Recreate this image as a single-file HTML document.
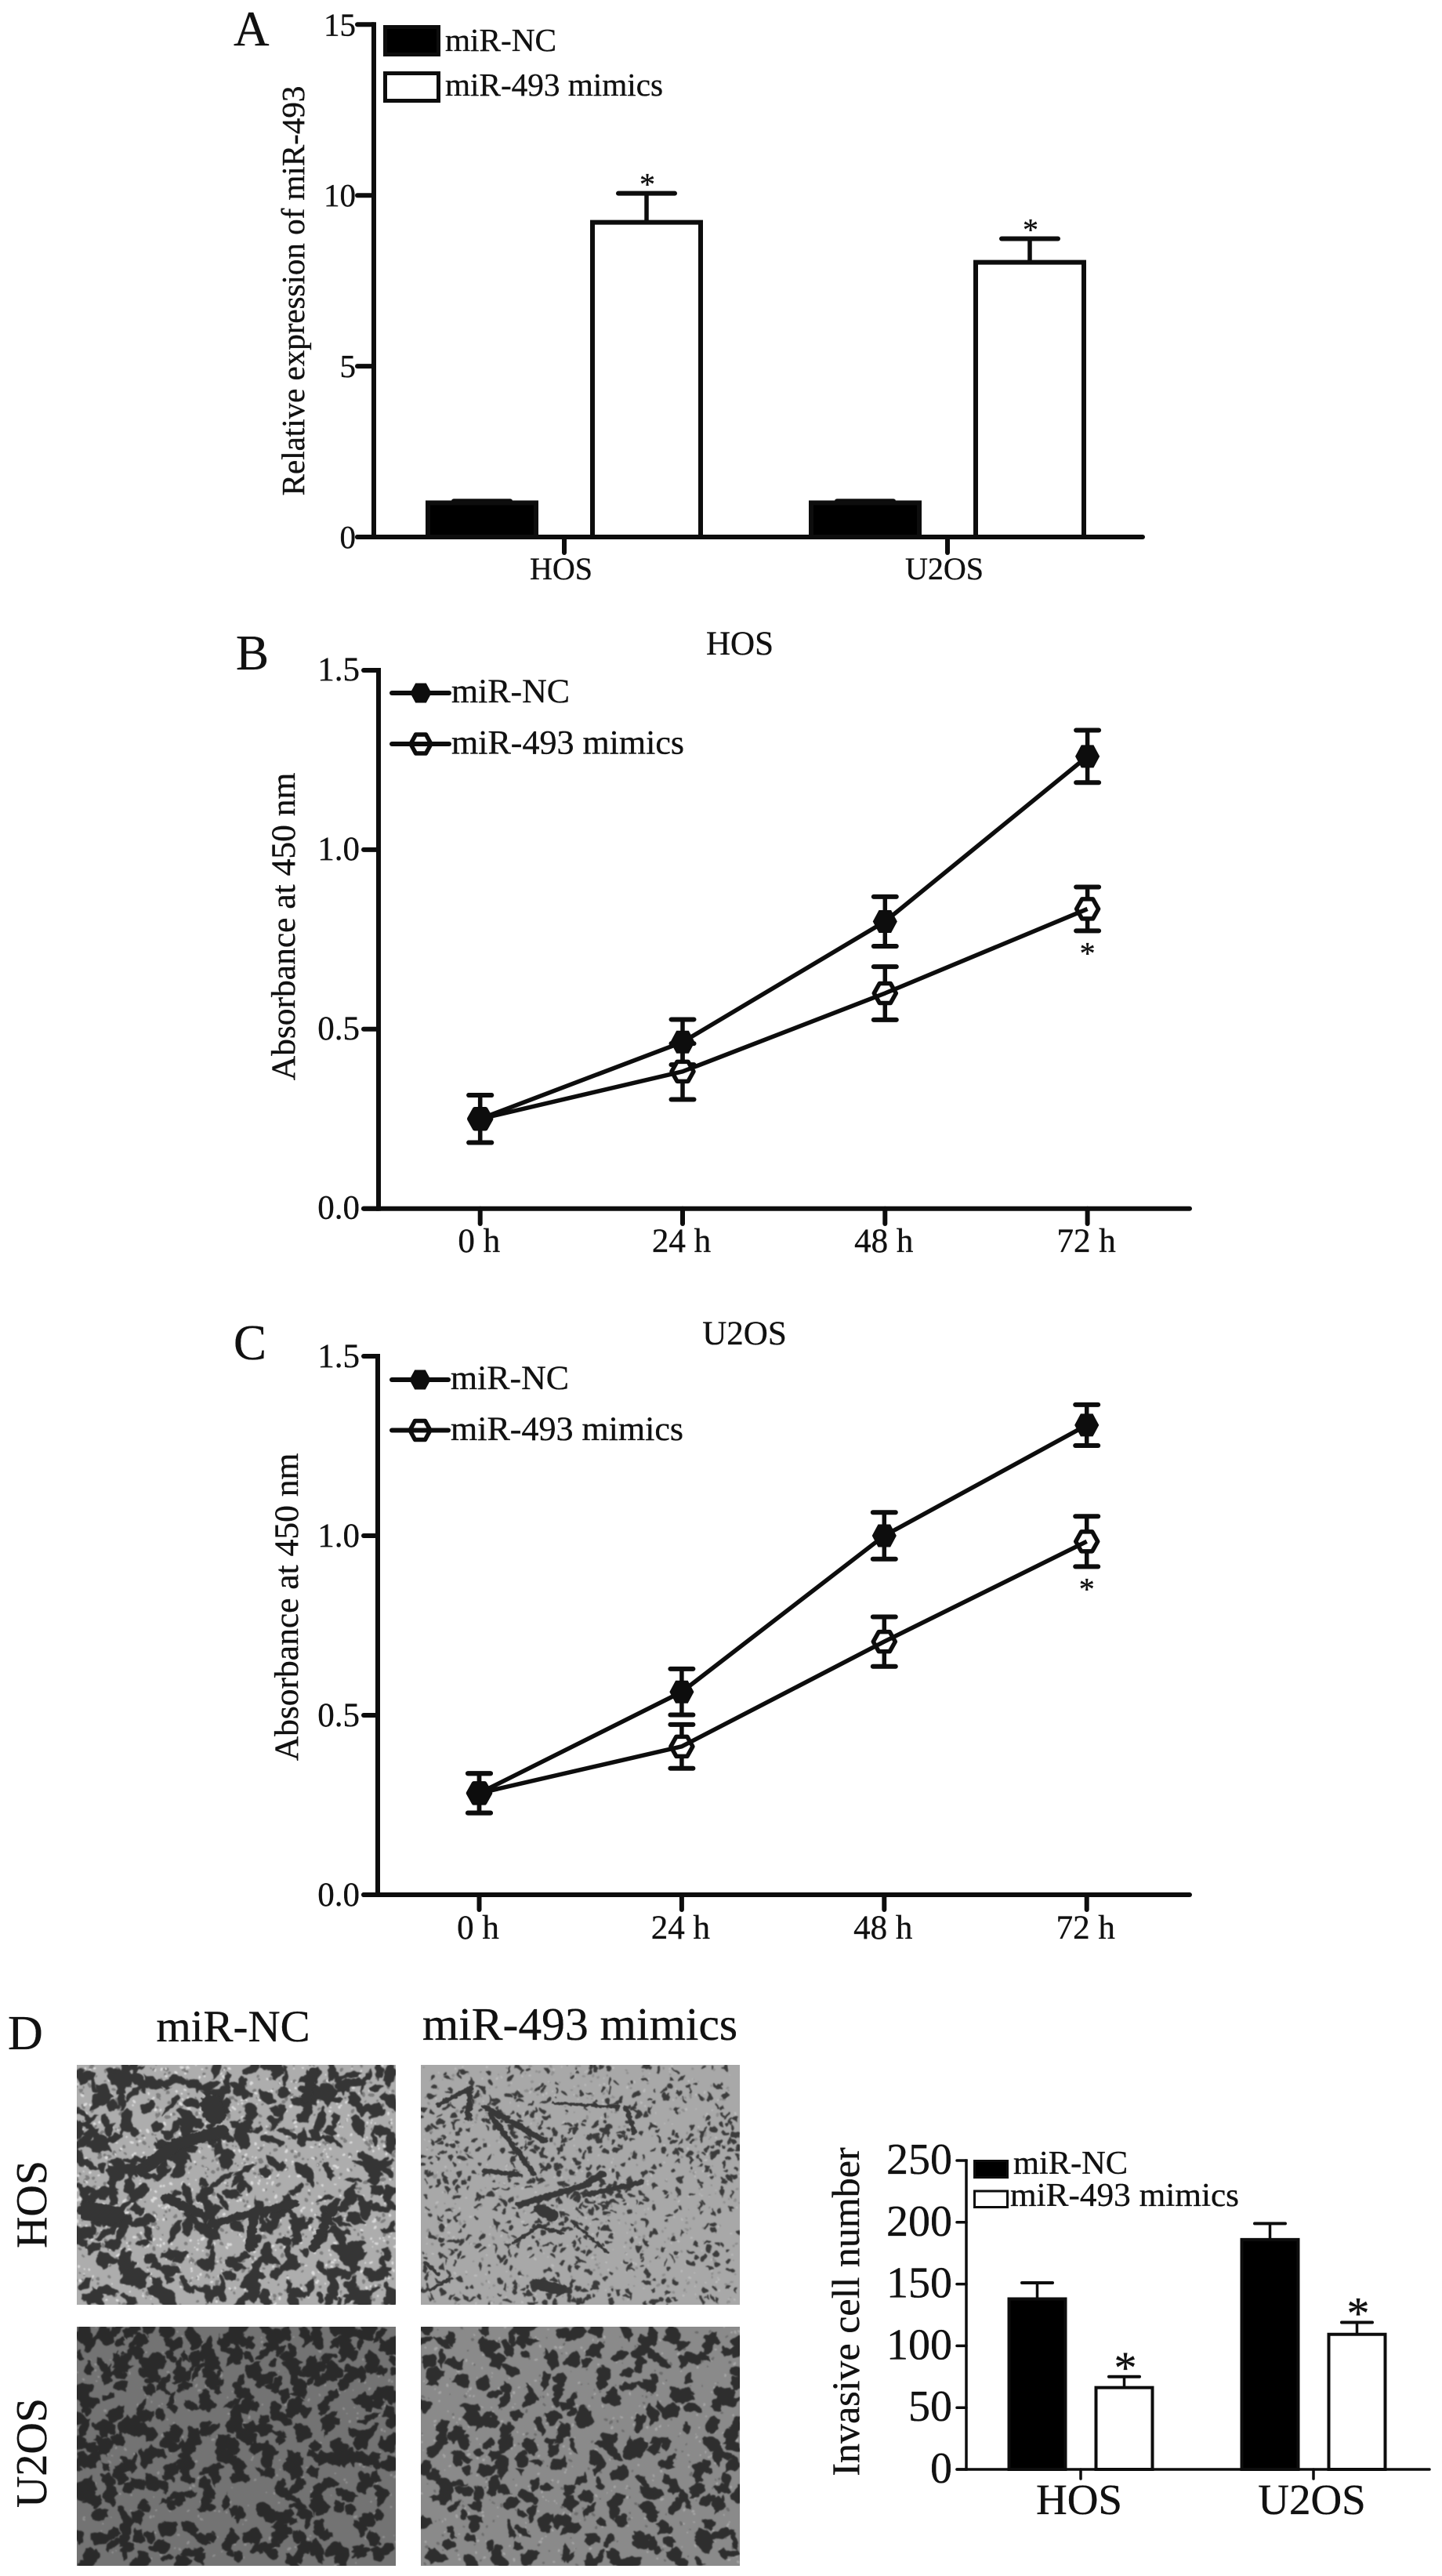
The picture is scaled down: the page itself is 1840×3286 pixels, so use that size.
<!DOCTYPE html>
<html lang="en">
<head>
<meta charset="utf-8">
<title>miR-493 figure</title>
<style>
html,body{margin:0;padding:0;background:#fff}
svg{display:block}
text{font-family:"Liberation Serif",serif;fill:#111;stroke:#111;stroke-width:.35}
</style>
</head>
<body>
<svg id="fig" xmlns="http://www.w3.org/2000/svg" width="1840" height="3286" viewBox="0 0 1840 3286">
<defs>
<filter id="rough" x="-3%" y="-3%" width="106%" height="106%"><feTurbulence type="fractalNoise" baseFrequency="0.1" numOctaves="2" seed="5" result="t"/><feDisplacementMap in="SourceGraphic" in2="t" scale="10" xChannelSelector="R" yChannelSelector="G"/><feGaussianBlur stdDeviation="0.9"/></filter>
<filter id="soft" x="-3%" y="-3%" width="106%" height="106%"><feGaussianBlur stdDeviation="0.7"/></filter>
<clipPath id="c1"><rect x="98" y="2634" width="407" height="306"/></clipPath>
<clipPath id="c2"><rect x="537" y="2634" width="407" height="306"/></clipPath>
<clipPath id="c3"><rect x="98" y="2968" width="407" height="305"/></clipPath>
<clipPath id="c4"><rect x="537" y="2968" width="407" height="305"/></clipPath>
</defs>
<rect width="1840" height="3286" fill="#fff"/>

<g id="m1" clip-path="url(#c1)">
<rect x="98" y="2634" width="407" height="306" fill="#adadad"/>
<g id="m1s"></g>
<g transform="translate(0 2540) scale(.625 .4758)" filter="url(#rough)" fill="none" stroke="#353535" stroke-linecap="round" stroke-linejoin="round">
<path d="M290 480L360 410L450 375" stroke-width="30"/><path d="M340 555L405 595" stroke-width="24"/><path d="M430 625L500 600L600 570" stroke-width="20"/>
<path d="M520 590L510 690" stroke-width="20"/><path d="M680 580L640 690" stroke-width="20"/><path d="M640 215L625 290" stroke-width="18"/>
<path d="M430 300L440 335" stroke-width="44"/><path d="M180 590L230 600" stroke-width="50"/>
</g>
</g>

<g id="m2" clip-path="url(#c2)">
<rect x="537" y="2634" width="407" height="306" fill="#a8a8a8"/>
<g id="m2s"></g>
<g transform="translate(0 2540) scale(.625 .4758)" filter="url(#rough)" fill="none" stroke="#383838" stroke-linecap="round" stroke-linejoin="round">
<path d="M895 305L960 260L955 340" stroke-width="12"/><path d="M990 310L1110 400" stroke-width="15"/><path d="M1000 330L1090 490" stroke-width="12"/><path d="M1130 300L1260 310" stroke-width="8"/><path d="M1278 310L1295 380" stroke-width="10"/>
<path d="M1060 572L1190 522L1230 490" stroke-width="16"/><path d="M1200 545L1310 512" stroke-width="13"/><path d="M990 482L1060 492" stroke-width="13"/><path d="M1050 675L1100 630L1150 650" stroke-width="9"/><path d="M1170 620L1240 700" stroke-width="7"/><path d="M880 800L920 770" stroke-width="8"/><path d="M870 730L895 760" stroke-width="8"/>
<path d="M1105 585L1125 600" stroke-width="30"/><path d="M1100 785L1140 800" stroke-width="30"/>
</g>
</g>

<g id="m3" clip-path="url(#c3)">
<rect x="98" y="2968" width="407" height="305" fill="#737373"/>
<g id="m3s"></g>
</g>

<g id="m4" clip-path="url(#c4)">
<rect x="537" y="2968" width="407" height="305" fill="#8a8a8a"/>
<g id="m4s"></g>
</g>

<text x="298" y="58" font-size="63">A</text>
<text x="301" y="854" font-size="63">B</text>
<text x="298" y="1734" font-size="63">C</text>
<text x="10" y="2614" font-size="62">D</text>
<text x="297.5" y="2604" font-size="57" text-anchor="middle">miR-NC</text>
<text x="740" y="2602" font-size="59.6" text-anchor="middle">miR-493 mimics</text>
<text transform="translate(59 2812) rotate(-90)" font-size="56" text-anchor="middle">HOS</text>
<text transform="translate(59 3129) rotate(-90)" font-size="56" text-anchor="middle">U2OS</text>
<g id="chartA"></g>
<g id="chartB"></g>
<g id="chartC"></g>
<g id="chartD"></g>
</svg>
<script>
const barCategories = ['HOS', 'U2OS'];

const aTickValues = [0, 5, 10, 15];
const aTickLabels = ['0', '5', '10', '15'];
const aNC = [1.0, 1.0];
const aNCErr = [0.05, 0.05];
const aMimics = [9.21, 8.04];
const aMimicsErr = [0.85, 0.69];

const lineCategories = ['0 h', '24 h', '48 h', '72 h'];
const lineTickValues = [0, 0.5, 1.0, 1.5];
const lineTickLabels = ['0.0', '0.5', '1.0', '1.5'];

const bNC = [0.25, 0.464, 0.80, 1.26];
const bNCErr = [0.066, 0.063, 0.069, 0.073];
const bMimics = [0.25, 0.382, 0.60, 0.835];
const bMimicsErr = [0.066, 0.078, 0.074, 0.061];

const cNC = [0.283, 0.565, 1.0, 1.308];
const cNCErr = [0.055, 0.064, 0.065, 0.057];
const cMimics = [0.283, 0.413, 0.705, 0.984];
const cMimicsErr = [0.055, 0.061, 0.069, 0.07];

const dTickValues = [0, 50, 100, 150, 200, 250];
const dTickLabels = ['0', '50', '100', '150', '200', '250'];
const dNC = [138, 186];
const dNCErr = [13, 13];
const dMimics = [66.2, 109.3];
const dMimicsErr = [8.8, 9.7];

const NS = 'http://www.w3.org/2000/svg';
function mk(parent, tag, attrs, txt) {
  const el = document.createElementNS(NS, tag);
  for (const k in attrs) el.setAttribute(k, attrs[k]);
  if (txt !== undefined) el.textContent = txt;
  parent.appendChild(el);
  return el;
}
function seg(parent, x1, y1, x2, y2, w, name, cap) {
  const el = mk(parent, 'line', {x1, y1, x2, y2, stroke: '#0d0d0d', 'stroke-width': w, 'stroke-linecap': cap || 'butt'});
  
  
  return el;
}
function hexPoints(cx, cy, rx, ry) {
  return [[cx - rx, cy], [cx - rx / 2, cy - ry], [cx + rx / 2, cy - ry], [cx + rx, cy], [cx + rx / 2, cy + ry], [cx - rx / 2, cy + ry]]
    .map(p => p.join(',')).join(' ');
}
function yAxis(g, o, tickValues, tickLabels) {
  seg(g, o.ax, o.y(tickValues[tickValues.length - 1]) - o.sw / 2, o.ax, o.y(0) + o.sw / 2, o.sw, 'y-axis-line');
  tickValues.forEach((v, i) => {
    seg(g, o.tickL, o.y(v), o.ax, o.y(v), o.sw, 'y-axis-tick', 'round');
    const t = mk(g, 'text', {x: o.labelR, y: o.y(v) + o.labelDy, 'font-size': o.tickFont, 'text-anchor': 'end'}, tickLabels[i]);
    
    
  });
  seg(g, o.tickL, o.y(0), o.right, o.y(0), o.sw, 'x-axis-line', 'round');
}
function yTitle(g, x, y, size, label) {
  const t = mk(g, 'text', {transform: `translate(${x} ${y}) rotate(-90)`, 'font-size': size, 'text-anchor': 'middle'}, label);
  
  
}
function legendText(g, x, y, size, len, label) {
  const t = mk(g, 'text', {x, y, 'font-size': size, textLength: len, lengthAdjust: 'spacingAndGlyphs'}, label);
  
  
}
function star(g, x, y, size) {
  const t = mk(g, 'text', {x, y, 'font-size': size, 'text-anchor': 'middle'}, '*');
  
  
}

function drawBarChart(g, o, tickValues, tickLabels, nc, ncErr, mim, mimErr) {
  barCategories.forEach((cat, i) => {
    const tx = o.x(i);
    [[nc, ncErr, o.dxNC, '#000', 'bar-mir-nc'], [mim, mimErr, o.dxMim, '#fff', 'bar-mir-493-mimics']].forEach(s => {
      const cx = tx + s[2];
      const val = s[0][i];
      const top = val + s[1][i];
      seg(g, cx, o.y(val), cx, o.y(top), o.stem, 'error-bar-stem');
      seg(g, cx - o.cap / 2, o.y(top), cx + o.cap / 2, o.y(top), o.capW, 'error-bar-cap', 'round');
      const r = mk(g, 'rect', {x: cx - o.barW / 2 + o.barS / 2, y: o.y(val), width: o.barW - o.barS, height: o.y(0) - o.y(val), fill: s[3], stroke: '#0d0d0d', 'stroke-width': o.barS});
      
      
    });
    star(g, tx + o.dxMim + o.starDx, o.y(mim[i] + mimErr[i]) + o.starDy, o.starFont);
    seg(g, tx, o.y(0), tx, o.tickB, o.sw, 'x-axis-tick', 'round');
    const t = mk(g, 'text', {x: tx + o.catDx, y: o.catY, 'font-size': o.catFont, 'text-anchor': 'middle'}, cat);
    
    
  });
  yAxis(g, o, tickValues, tickLabels);
}

function drawLineChart(g, o, nc, ncErr, mim, mimErr, title) {
  const x = o.x;
  const y = o.y;
  lineCategories.forEach((cat, i) => {
    seg(g, x(i), y(0), x(i), o.tickB, 6, 'x-axis-tick', 'round');
    const t = mk(g, 'text', {x: x(i) - 1.5, y: o.catY, 'font-size': 43, 'text-anchor': 'middle'}, cat);
    
    
  });
  yAxis(g, o, lineTickValues, lineTickLabels);
  const series = [[mim, mimErr, 'mimics'], [nc, ncErr, 'mir-nc']];
  series.forEach(s => {
    s[0].forEach((v, i) => {
      seg(g, x(i), y(v - s[1][i]), x(i), y(v + s[1][i]), 5.5, 'error-bar-stem');
      seg(g, x(i) - 14.5, y(v + s[1][i]), x(i) + 14.5, y(v + s[1][i]), 6, 'error-bar-cap', 'round');
      seg(g, x(i) - 14.5, y(v - s[1][i]), x(i) + 14.5, y(v - s[1][i]), 6, 'error-bar-cap', 'round');
    });
  });
  mim.forEach((v, i) => {
    const h = mk(g, 'polygon', {points: hexPoints(x(i), y(v), 14, 12.5), fill: '#fff', stroke: '#0d0d0d', 'stroke-width': 5.5, 'stroke-linejoin': 'round'});
    
    
  });
  series.forEach(s => {
    const pl = mk(g, 'polyline', {points: s[0].map((v, i) => x(i) + ',' + y(v)).join(' '), fill: 'none', stroke: '#0d0d0d', 'stroke-width': 5.5, 'stroke-linejoin': 'round'});
    
    
  });
  nc.forEach((v, i) => {
    const h = mk(g, 'polygon', {points: hexPoints(x(i), y(v), 15, 14), fill: '#0d0d0d', stroke: '#0d0d0d', 'stroke-width': 1});
    
    
  });
  star(g, x(3), y(mim[3] - mimErr[3]) + 42, 40);
  const tt = mk(g, 'text', {x: o.titleX, y: o.titleY, 'font-size': 43, 'text-anchor': 'middle'}, title);
  
  
  seg(g, o.legX0, o.leg1, o.legX1, o.leg1, 6, 'legend-line-mir-nc', 'round');
  const m1 = mk(g, 'polygon', {points: hexPoints(o.legM, o.leg1, 13, 12), fill: '#0d0d0d', stroke: '#0d0d0d', 'stroke-width': 1});
  
  
  const m2 = mk(g, 'polygon', {points: hexPoints(o.legM, o.leg2, 13, 12), fill: '#fff', stroke: '#0d0d0d', 'stroke-width': 5.5, 'stroke-linejoin': 'round'});
  
  
  seg(g, o.legX0, o.leg2, o.legX1, o.leg2, 6, 'legend-line-mimics', 'round');
  legendText(g, o.legX1 + 3, o.leg1 + 12, 43, 151, 'miR-NC');
  legendText(g, o.legX1 + 3, o.leg2 + 12.5, 43, 297, 'miR-493 mimics');
  yTitle(g, o.yTitleX, o.yTitleY, 43.5, 'Absorbance at 450 nm');
}

/* Panel A */
const gA = document.getElementById('chartA');
const optA = {
  x: i => 720 + 489 * i, y: v => 685 - 43.58 * v,
  dxNC: -105, dxMim: 105, barW: 144, barS: 6, cap: 72, capW: 6, stem: 5.5,
  ax: 477, sw: 6, tickL: 456, right: 1458, tickB: 705, labelR: 454, labelDy: 14, tickFont: 41,
  catDx: -4, catY: 739, catFont: 40, starDx: 1, starDy: 2, starFont: 40
};
drawBarChart(gA, optA, aTickValues, aTickLabels, aNC, aNCErr, aMimics, aMimicsErr);
yTitle(gA, 388, 371, 41, 'Relative expression of miR-493');
const la1 = mk(gA, 'rect', {x: 491.5, y: 34.5, width: 68, height: 35, fill: '#000', stroke: '#0d0d0d', 'stroke-width': 5});


const la2 = mk(gA, 'rect', {x: 491.5, y: 93.5, width: 68, height: 35, fill: '#fff', stroke: '#0d0d0d', 'stroke-width': 5});


legendText(gA, 568, 65, 41, 142, 'miR-NC');
legendText(gA, 568, 122, 41, 278, 'miR-493 mimics');

/* Panels B and C */
drawLineChart(document.getElementById('chartB'), {
  x: i => 612.7 + 258.3 * i, y: v => 1541.7 - 457.8 * v,
  ax: 483, sw: 6, tickL: 464, right: 1518, tickB: 1561, labelR: 459, labelDy: 13, tickFont: 43,
  catY: 1597, titleX: 944, titleY: 835, leg1: 884, leg2: 949, legX0: 500, legX1: 573, legM: 537, yTitleX: 376, yTitleY: 1182
}, bNC, bNCErr, bMimics, bMimicsErr, 'HOS');
drawLineChart(document.getElementById('chartC'), {
  x: i => 611.5 + 258.4 * i, y: v => 2417 - 458 * v,
  ax: 482, sw: 6, tickL: 464, right: 1518, tickB: 2436, labelR: 459, labelDy: 14, tickFont: 43,
  catY: 2473, titleX: 950, titleY: 1715, leg1: 1760, leg2: 1824.5, legX0: 500, legX1: 572, legM: 536, yTitleX: 380, yTitleY: 2050
}, cNC, cNCErr, cMimics, cMimicsErr, 'U2OS');

/* Panel D chart */
const gD = document.getElementById('chartD');
const optD = {
  x: i => 1379 + 297 * i, y: v => 3150 - 1.576 * v,
  dxNC: -55.5, dxMim: 55.5, barW: 76, barS: 4, cap: 39, capW: 4, stem: 3.5,
  ax: 1233, sw: 3.5, tickL: 1221, right: 1824, tickB: 3162, labelR: 1215, labelDy: 17, tickFont: 56,
  catDx: -2, catY: 3207, catFont: 55, starDx: 1.5, starDy: 8, starFont: 58
};
drawBarChart(gD, optD, dTickValues, dTickLabels, dNC, dNCErr, dMimics, dMimicsErr);
yTitle(gD, 1096, 2949, 50, 'Invasive cell number');
const ld1 = mk(gD, 'rect', {x: 1243.5, y: 2756.5, width: 42, height: 21, fill: '#000', stroke: '#0d0d0d', 'stroke-width': 3});


const ld2 = mk(gD, 'rect', {x: 1243.5, y: 2795, width: 42, height: 20.5, fill: '#fff', stroke: '#0d0d0d', 'stroke-width': 3});


legendText(gD, 1293, 2773, 42, 146, 'miR-NC');
legendText(gD, 1289, 2814, 42, 292, 'miR-493 mimics');

/* Micrograph texture (photographic backdrop, not chart data) */
function lcg(seed) {
  let s = seed;
  return () => (s = (s * 1664525 + 1013904223) % 4294967296) / 4294967296;
}
function blob(r, cx, cy, rx, ry, a) {
  let d = '';
  const n = 7;
  for (let k = 0; k < n; k++) {
    const t = k / n * 2 * Math.PI;
    const j = 0.75 + r() * 0.5;
    const px = Math.cos(t) * rx * j;
    const py = Math.sin(t) * ry * j;
    const X = cx + px * Math.cos(a) - py * Math.sin(a);
    const Y = cy + px * Math.sin(a) + py * Math.cos(a);
    d += (k ? 'L' : 'M') + X.toFixed(1) + ' ' + Y.toFixed(1);
  }
  return d + 'Z';
}
function texture(id, spec) {
  const host = document.getElementById(id);
  const r = lcg(spec.seed);
  const bx = spec.box;
  const rows = spec.grid.map(row => row.split(' '));
  const ch = bx[3] / rows.length;
  const cw = bx[2] / rows[0].length;
  spec.specks.forEach(sp => {
    let d = '';
    for (let k = 0; k < sp.n; k++) {
      const s1 = sp.min + r() * (sp.max - sp.min);
      d += blob(r, bx[0] + r() * bx[2], bx[1] + r() * bx[3], s1 * (0.8 + r() * 0.9), s1, r() * 3.14);
    }
    const p = mk(host, 'path', {d, fill: sp.color, filter: 'url(#soft)'});
    
    
  });
  const area = Math.PI * (spec.rx[0] + spec.rx[1]) / 2 * (spec.ry[0] + spec.ry[1]) / 2;
  let d = '';
  rows.forEach((row, ri) => {
    row.forEach((ds, ci) => {
      const c = Math.min(0.92, Number(ds) / spec.div);
      const n = Math.round(-Math.log(1 - c) * cw * ch / area);
      for (let k = 0; k < n; k++) {
        const rx = spec.rx[0] + r() * (spec.rx[1] - spec.rx[0]);
        const ry = spec.ry[0] + r() * (spec.ry[1] - spec.ry[0]);
        d += blob(r, bx[0] + (ci + r()) * cw, bx[1] + (ri + r()) * ch, rx, ry, r() * 3.14);
      }
    });
  });
  const p = mk(host, 'path', {d, fill: spec.dark, filter: 'url(#rough)'});
  
  
}
texture('m1s', {
  seed: 101, box: [98, 2634, 407, 306], dark: '#343434', div: 11, rx: [7, 18], ry: [3.5, 8],
  specks: [{n: 900, min: 1, max: 2.6, color: '#7d7d7d'}, {n: 900, min: .9, max: 2, color: '#dcdcdc'}],
  grid: ['5 6 6 5 5 4 5 6 4 7 6 5', '5 6 4 3 5 8 4 5 7 7 4 5', '7 6 3 5 7 8 5 5 4 6 3 4', '6 3 3 7 7 6 4 3 4 3 3 4', '4 5 6 6 3 5 3 5 4 3 5 8', '7 7 4 4 5 4 4 4 3 4 6 7', '8 8 5 3 7 5 5 7 6 7 6 5', '4 4 3 3 3 3 3 7 5 4 7 4', '3 5 5 6 4 6 6 5 3 5 7 8', '6 5 6 7 6 5 6 4 6 8 8 8']
});
texture('m2s', {
  seed: 202, box: [537, 2634, 407, 306], dark: '#3b3b3b', div: 16, rx: [2, 6], ry: [1.5, 3.5],
  specks: [{n: 500, min: .8, max: 2, color: '#8e8e8e'}, {n: 400, min: .8, max: 1.6, color: '#bcbcbc'}],
  grid: ['2 2 2 2 2 2 2 2 2 2 2 2', '2 5 5 3 3 2 3 4 4 3 2 2', '3 3 2 5 4 3 5 3 3 2 3 4', '4 4 2 4 5 4 3 3 2 3 5 6', '4 3 2 3 5 5 3 2 2 2 3 3', '2 2 3 3 3 5 6 6 3 2 2 2', '2 3 2 3 4 6 4 2 2 2 2 2', '3 4 2 3 4 3 3 2 2 2 2 2', '3 2 2 2 2 3 2 2 2 2 2 2', '3 3 2 3 6 6 3 3 3 3 2 2']
});
texture('m3s', {
  seed: 303, box: [98, 2968, 407, 305], dark: '#2c2c2c', div: 12, rx: [6, 15], ry: [4, 10],
  specks: [{n: 350, min: .8, max: 1.8, color: '#909090'}],
  grid: ['7 7 8 8 7 8 8 8 7 8 8 9', '7 8 7 7 7 8 8 7 8 8 8 9', '7 7 6 6 7 8 8 7 7 7 7 8', '6 5 6 6 6 6 6 6 6 6 7 7', '8 7 6 8 6 7 7 7 6 6 6 6', '7 7 7 6 6 6 6 6 7 6 6 6', '6 6 6 6 6 5 5 5 7 7 5 5', '7 5 5 6 5 5 5 6 8 7 5 5', '5 6 5 5 6 5 6 6 7 6 6 4', '6 6 5 6 6 5 6 5 7 7 5 5']
});
texture('m4s', {
  seed: 404, box: [537, 2968, 407, 305], dark: '#2f2f2f', div: 12, rx: [6, 15], ry: [4, 10],
  specks: [{n: 450, min: .8, max: 1.8, color: '#a6a6a6'}, {n: 300, min: .8, max: 2, color: '#6c6c6c'}],
  grid: ['6 5 6 7 5 4 5 4 4 6 5 6', '5 5 4 5 5 5 4 4 6 5 5 4', '4 5 4 3 5 4 5 5 6 4 6 6', '5 6 5 4 4 7 5 5 6 5 5 7', '5 5 4 5 6 6 4 4 6 5 5 7', '4 6 6 6 5 4 4 5 5 4 5 6', '5 7 5 5 5 4 5 5 5 5 5 6', '4 5 5 4 5 5 4 4 6 5 5 6', '3 4 5 5 5 7 5 5 5 6 5 5', '3 5 6 5 5 5 6 5 6 5 5 5']
});
</script>
</body>
</html>
